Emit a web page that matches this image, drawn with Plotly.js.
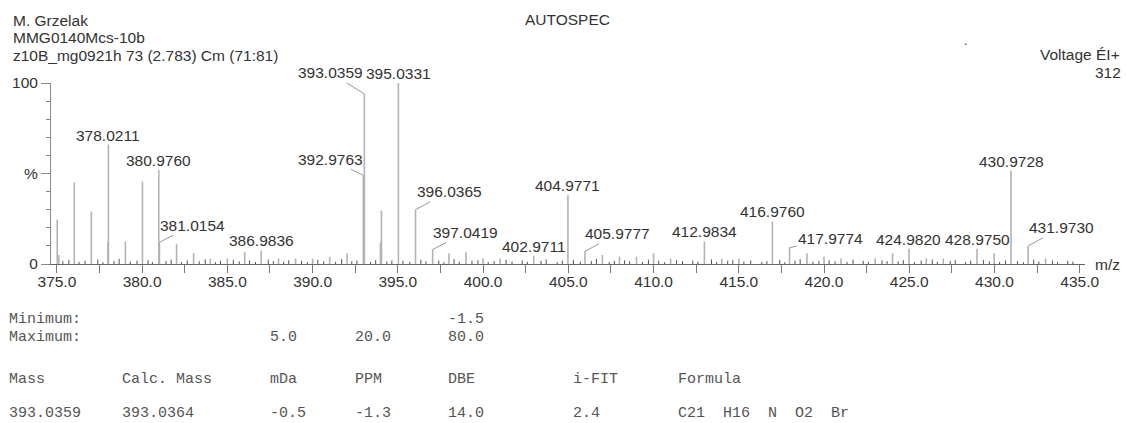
<!DOCTYPE html>
<html>
<head>
<meta charset="utf-8">
<script src="https://cdn.plot.ly/plotly-3.0.1.min.js"></script>
<style>html,body{margin:0;padding:0;background:#fff;}#chart{width:1126px;height:423px;}</style>
</head>
<body>
<div id="chart"></div>
<script>
// ---- data ----
const labeledMz  = [378.0211, 380.9760, 381.0154, 386.9836, 392.9763, 393.0359, 395.0331, 396.0365, 397.0419, 402.9711,
                    404.9771, 405.9777, 412.9834, 416.9760, 417.9774, 424.9820, 428.9750, 430.9728, 431.9730];
const labeledInt = [66, 52, 12, 7.5, 49, 94, 100, 30, 8, 4.5,
                    38, 7, 12.5, 23.5, 9, 8.4, 8.4, 51.5, 10];

const otherMz  = [375.02,375.12,376.02,377.02,377.99,379.02,380.02,382.02,383.02,384.0,
                  385.0,386.02,388.0,389.0,390.0,391.0,392.02,393.98,394.04,398.0,
                  399.0,400.0,401.0,407.0,408.0,409.0,410.0,411.0,414.0,415.0,
                  419.0,420.0,421.0,423.0,424.02,426.0,427.0,429.98,433.0];
const otherInt = [24.5,5,45,29,12,12.5,45.5,11,6,3,
                  3,6.5,3,3,3,4,6,12,29.5,6,
                  6.5,3,3,5,4,4,6,3,3,3,
                  6,4,3,3,6,3,3,6,3];

const noiseMz = [
 375.35,375.7,376.3,376.65,377.4,377.7,378.35,378.65,379.3,379.7,
 380.35,380.6,381.4,381.7,382.3,382.65,383.35,383.7,384.3,384.6,
 385.35,385.7,386.3,386.65,387.4,387.7,388.3,388.6,389.35,389.7,
 390.3,390.65,391.35,391.7,392.3,392.6,393.4,393.7,394.35,394.65,
 395.3,395.7,396.35,396.65,397.4,397.7,398.3,398.6,399.35,399.7,
 400.3,400.65,401.35,401.7,402.3,402.6,403.4,403.7,404.35,404.65,
 405.3,405.7,406.35,406.65,407.4,407.7,408.3,408.6,409.35,409.7,
 410.3,410.65,411.35,411.7,412.3,412.6,413.4,413.7,414.35,414.65,
 415.3,415.7,416.35,416.65,417.4,417.7,418.3,418.6,419.35,419.7,
 420.3,420.65,421.35,421.7,422.3,422.6,423.4,423.7,424.35,424.65,
 425.3,425.7,426.35,426.65,427.4,427.7,428.3,428.6,429.35,429.7,
 430.3,430.65,431.35,431.7,432.3,432.6,433.4,433.7,434.3,434.6];
const noiseInt = [
 1.6,2.2,1.2,1.8,2.5,1.0,1.6,2.8,1.3,1.9,
 2.1,1.1,1.7,2.4,1.2,2.0,1.5,2.6,1.0,1.8,
 2.2,1.4,1.9,1.1,2.5,1.6,1.3,2.1,1.8,1.0,
 2.3,1.5,1.2,2.7,1.6,1.9,1.1,2.2,1.4,2.0,
 1.7,1.2,2.4,1.5,1.9,1.0,2.6,1.3,1.8,2.1,
 1.1,1.6,2.3,1.4,2.0,1.2,1.7,2.5,1.0,1.9,
 2.2,1.3,1.6,2.8,1.1,1.8,2.0,1.5,1.2,2.4,
 1.7,1.0,2.1,1.6,1.9,1.3,2.5,1.1,1.8,2.2,
 1.4,2.0,1.2,1.6,2.3,1.0,1.9,2.6,1.3,1.7,
 2.1,1.5,1.1,2.4,1.8,1.2,2.0,1.6,1.4,2.2,
 1.0,1.9,2.5,1.3,1.7,2.1,1.1,1.8,2.3,1.5,
 1.2,2.0,1.6,1.0,2.4,1.4,1.9,1.2,1.7,1.3];

const xTickVals = [375,380,385,390,395,400,405,410,415,420,425,430,435];
const yTickVals = [0, 50, 100];
const yTickText = ["0", "%", "100"];

const headerLines = ["M. Grzelak", "MMG0140Mcs-10b", "z10B_mg0921h 73 (2.783) Cm (71:81)"];
const instrument = "AUTOSPEC";
const modeText = "Voltage \u00c9I+";
const scaleText = "312";

const tableMin = ["Minimum:", "", "", "", "-1.5", "", ""];
const tableMax = ["Maximum:", "", "5.0", "20.0", "80.0", "", ""];
const tableHead = ["Mass", "Calc. Mass", "mDa", "PPM", "DBE", "i-FIT", "Formula"];
const tableRow = ["393.0359", "393.0364", "-0.5", "-1.3", "14.0", "2.4", "C21  H16  N  O2  Br"];

// ---- layout config (positions / styles) ----
const W = 1126, H = 423;
const P = {l: 51, r: 41, t: 82.5, b: 158.5};
const PW = W - P.l - P.r, PH = H - P.t - P.b;
const fx = px => (px - P.l) / PW;
const fy = py => (H - P.b - py) / PH;
const SANS = "Liberation Sans, Arial, sans-serif";
const MONO = "Liberation Mono, Courier New, monospace";
const TXT = "#333";
// pixel offsets for labels drawn with leader lines
const leader = {
  "381.0154": [33, -17], "392.9763": [-33, -16], "393.0359": [-34, -21],
  "396.0365": [33.5, -18], "397.0419": [33, -17], "405.9777": [32.5, -17.5],
  "417.9774": [41, -9], "431.9730": [33, -18]
};
const tableCols = [8.3, 120.7, 269.3, 354.3, 446.7, 571.7, 676.7];
const tableRowsY = [320, 338, 380.5, 415];

function segs(mz, it) {
  const x = [], y = [];
  mz.forEach((m, i) => { x.push(m, m, null); y.push(0, it[i], null); });
  return {x, y};
}
const sMain = segs(labeledMz.concat(otherMz), labeledInt.concat(otherInt));
const sNoise = segs(noiseMz, noiseInt);

const traces = [
  {type: "scatter", mode: "lines", x: sNoise.x, y: sNoise.y,
   line: {color: "#555", width: 1}, hoverinfo: "skip", cliponaxis: false},
  {type: "scatter", mode: "lines", x: sMain.x, y: sMain.y,
   line: {color: "#b3b3b3", width: 1.6}, hoverinfo: "skip", cliponaxis: false}
];

const ann = [];
labeledMz.forEach((m, i) => {
  const t = m.toFixed(4);
  const base = {x: m, y: labeledInt[i], xref: "x", yref: "y", text: t,
                font: {family: SANS, size: 15.5, color: TXT}};
  if (leader[t]) {
    ann.push(Object.assign(base, {showarrow: true, arrowhead: 0, arrowwidth: 1,
      arrowcolor: "#999", ax: leader[t][0], ay: leader[t][1], standoff: 0}));
  } else {
    ann.push(Object.assign(base, {showarrow: false, xanchor: "center", yanchor: "bottom", yshift: -1}));
  }
});
headerLines.forEach((s, i) => {
  ann.push({xref: "paper", yref: "paper", x: fx(11), y: fy([19.5, 37, 54.5][i]), text: s,
    showarrow: false, xanchor: "left", yanchor: "middle", font: {family: SANS, size: 15.5, color: TXT}});
});
ann.push({xref: "paper", yref: "paper", x: fx(567.5), y: fy(19), text: instrument, showarrow: false,
  xanchor: "center", yanchor: "middle", font: {family: SANS, size: 15.5, color: TXT}});
ann.push({xref: "paper", yref: "paper", x: fx(1122), y: fy(54), text: modeText, showarrow: false,
  xanchor: "right", yanchor: "middle", font: {family: SANS, size: 15.5, color: TXT}});
ann.push({xref: "paper", yref: "paper", x: fx(1123), y: fy(72), text: scaleText, showarrow: false,
  xanchor: "right", yanchor: "middle", font: {family: SANS, size: 15.5, color: TXT}});
ann.push({xref: "paper", yref: "paper", x: fx(965), y: fy(40), text: ".", showarrow: false,
  xanchor: "center", yanchor: "middle", font: {family: SANS, size: 12, color: TXT}});
ann.push({xref: "paper", yref: "paper", x: fx(1107), y: fy(265), text: "m/z", showarrow: false,
  xanchor: "center", yanchor: "middle", font: {family: SANS, size: 15.5, color: TXT}});

[tableMin, tableMax, tableHead, tableRow].forEach((row, r) => {
  row.forEach((s, c) => {
    if (!s) return;
    ann.push({xref: "paper", yref: "paper", x: fx(tableCols[c]), y: fy(tableRowsY[r]),
      text: s.replace(/ /g, "\u00a0"), showarrow: false, xanchor: "left", yanchor: "middle",
      borderpad: 0, font: {family: MONO, size: 15, color: "#555"}});
  });
});

const layout = {
  width: W, height: H, margin: P, paper_bgcolor: "#fff", plot_bgcolor: "#fff",
  showlegend: false,
  xaxis: {range: [374.654, 435.31], showgrid: false, zeroline: false, showline: true,
    linecolor: "#666", linewidth: 1.2, ticks: "outside", ticklen: 8, tickcolor: "#777", tickwidth: 1,
    tickvals: xTickVals, ticktext: xTickVals.map(v => v.toFixed(1)),
    tickfont: {family: SANS, size: 15.5, color: TXT}, ticklabelstandoff: -5,
    minor: {dtick: 2.5, tick0: 375, ticklen: 8, tickcolor: "#777", ticks: "outside"},
    fixedrange: true},
  yaxis: {range: [0, 100], showgrid: false, zeroline: false, showline: true,
    linecolor: "#888", linewidth: 1, ticks: "outside", ticklen: 9, tickcolor: "#888",
    tickvals: yTickVals, ticktext: yTickText,
    tickfont: {family: SANS, size: 15.5, color: TXT},
    minor: {dtick: 10, tick0: 0, ticklen: 4, tickcolor: "#888", ticks: "outside"},
    fixedrange: true},
  annotations: ann
};
Plotly.newPlot("chart", traces, layout, {displayModeBar: false, staticPlot: true});
</script>
</body>
</html>
